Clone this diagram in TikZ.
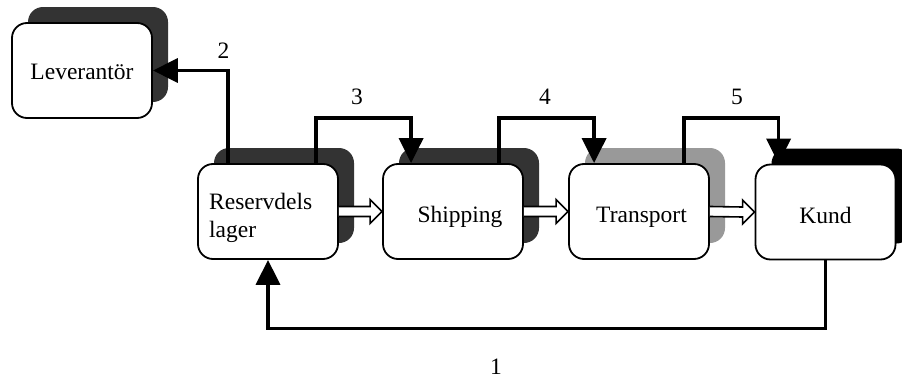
\documentclass[tikz,border=0pt]{standalone}
\usepackage{fontspec}
\setmainfont{Liberation Serif}
\usetikzlibrary{arrows.meta,shadows,calc}
\definecolor{shadowdark}{HTML}{333333}
\definecolor{shadowgray}{HTML}{999999}
\begin{document}
\begin{tikzpicture}[x=1pt,y=-1pt,
  every node/.style={font=\fontsize{23.5}{28}\selectfont},
  stage/.style={draw=black, line width=1.8pt, fill=white, rounded corners=15pt,
    minimum width=140pt, minimum height=95pt, inner sep=0pt,
    text height=22pt, text depth=0pt},
  shade/.style={general shadow={draw=none, fill=#1, shadow xshift=16pt, shadow yshift=16pt}},
  conn/.style={line width=3.5pt, black, line join=miter},
  connarrow/.style={conn, -{Triangle[length=25pt,width=24pt]}},
  blockarrow/.style={draw=black, line width=1.6pt, fill=white, line join=miter},
  num/.style={inner sep=0pt}]
\useasboundingbox (0,0) rectangle (902,380);

% stages
\node[stage, shade=shadowdark, text height=17.5pt] (lev) at (82,70.5) {Leverantör};
\node[stage, shade=shadowdark, text height=0pt, text depth=0pt] (res) at (268,211.5) {};
\node[anchor=base west, inner sep=0pt] (restop) at (209,209) {Reservdels};
\node[anchor=base west, inner sep=0pt] (resbot) at (209,237) {lager};
\node[stage, shade=shadowdark] (shp) at (453,211.5) {\hspace{14pt}Shipping};
\node[stage, shade=shadowgray] (trn) at (639,211.5) {\hspace{5pt}Transport};
\node[stage, shade=black] (knd) at (825.5,212) {Kund};

% material flow between the stages
\foreach \a/\b in {res/shp, shp/trn, trn/knd}{
  \draw[blockarrow]
    ($(\a.east)+(0,-5)$) -- ($(\b.west)+(-12,-5)$) -- ($(\b.west)+(-12,-12)$)
    -- (\b.west) -- ($(\b.west)+(-12,12)$) -- ($(\b.west)+(-12,5)$)
    -- ($(\a.east)+(0,5)$);
}

% information flows
\draw[connarrow] ([xshift=31pt]res.north west) |- (lev.east);
\draw[connarrow] ([xshift=119pt]res.north west) -- ++(0,-45) -| ([xshift=29pt]shp.north west);
\draw[connarrow] ([xshift=117pt]shp.north west) -- ++(0,-45) -| ([xshift=26pt]trn.north west);
\draw[connarrow] ([xshift=116pt]trn.north west) -- ++(0,-45) -| ([xshift=24pt]knd.north west);
\draw[connarrow] (knd.south) -- ++(0,68) -| (res.south);

% flow numbers
\node[num] (n1) at (496,367) {1};
\node[num] (n2) at (223.5,51) {2};
\node[num] (n3) at (357,97) {3};
\node[num] (n4) at (545,97) {4};
\node[num] (n5) at (737,97) {5};
\end{tikzpicture}
\end{document}
